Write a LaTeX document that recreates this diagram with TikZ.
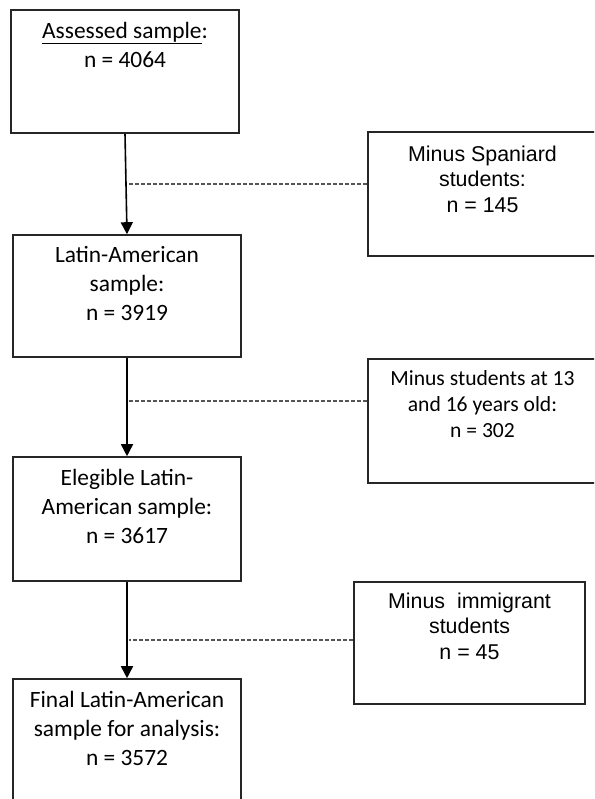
\documentclass[tikz,border=0pt]{standalone}
\usepackage{fontspec}
\setmainfont{Carlito}
\newfontfamily\arialfont{Liberation Sans}
\usepackage{tikz}
\usetikzlibrary{
  arrows.meta,
  positioning,
  calc
}
\definecolor{boxgray}{HTML}{262626}
\definecolor{dashgray}{HTML}{555555}

\begin{document}
\begin{tikzpicture}[
    x=1pt, y=-1pt,
    >=Latex,
    stage/.style={draw=boxgray, line width=1.6pt, minimum width=228pt, inner sep=0pt},
    stagetext/.style={align=center, inner sep=0pt, anchor=base,
      font=\fontsize{23.4}{29}\selectfont},
    calitext/.style={align=center, inner sep=0pt, anchor=base,
      font=\fontsize{21.6}{26}\selectfont},
    ariatext/.style={align=center, inner sep=0pt, anchor=base,
      font=\arialfont\fontsize{21.4}{25.5}\selectfont},
    flow/.style={line width=1.6pt, -{Triangle[width=12pt,length=12pt]}},
    guide/.style={draw=dashgray, line width=1.2pt, dash pattern=on 4pt off 2pt}
    ]

    \path[use as bounding box, clip] (0,0) rectangle (594,799);

    % Caixas principais
    \node[stage, minimum height=123pt] (s1) at (125,71.5) {};
    \node[stage, minimum height=122pt] (s2) at (127,296) {};
    \node[stage, minimum height=124pt] (s3) at (127,519) {};
    \node[stage, minimum height=122pt] (s4) at (127,740) {};

    % Caixas de exclusao
    \node[stage, minimum width=229pt, minimum height=124pt] (eA) at (482.5,194) {};
    \node[stage, minimum width=229pt, minimum height=124pt] (eB) at (482.5,421) {};
    \node[stage, minimum width=231pt, minimum height=122pt] (eC) at (469.5,643) {};

    % Textos (base = ultima linha)
    \node[stagetext] (t1) at ([yshift=-58pt]s1.north)
    {\underline{Assessed sample}:\\n = 4064};
    \node[stagetext] (t2) at ([yshift=-86pt]s2.north)
    {Latin-American\\sample:\\n = 3919};
    \node[stagetext] (t3) at ([yshift=-87pt]s3.north)
    {Elegible Latin-\\American sample:\\n = 3617};
    \node[stagetext] (t4) at ([yshift=-87pt]s4.north)
    {Final Latin-American\\sample for analysis:\\n = 3572};

    \node[ariatext] (tA) at ([yshift=-81pt]eA.north)
    {Minus Spaniard\\students:\\n = 145};
    \node[calitext] (tB) at ([yshift=-79pt]eB.north)
    {Minus students at 13\\and 16 years old:\\n = 302};
    \node[ariatext] (tC) at ([yshift=-78pt]eC.north)
    {Minus\ \ immigrant\\students\\n = 45};

    % Setas
    \draw[flow] (s1.south) -- (s2.north);
    \draw[flow] (s2.south) -- (s3.north);
    \draw[flow] (s3.south) -- (s4.north);

    % Linhas tracejadas
    \draw[guide] ([yshift=10pt]eA.west) -- ([xshift=3pt,yshift=10pt]eA.west -| s1.south);
    \draw[guide] ([yshift=20pt]eB.west) -- ([xshift=2pt,yshift=20pt]eB.west -| s2.south);
    \draw[guide] ([yshift=3pt]eC.west) -- ([xshift=2pt,yshift=3pt]eC.west -| s3.south);

\end{tikzpicture}
\end{document}
